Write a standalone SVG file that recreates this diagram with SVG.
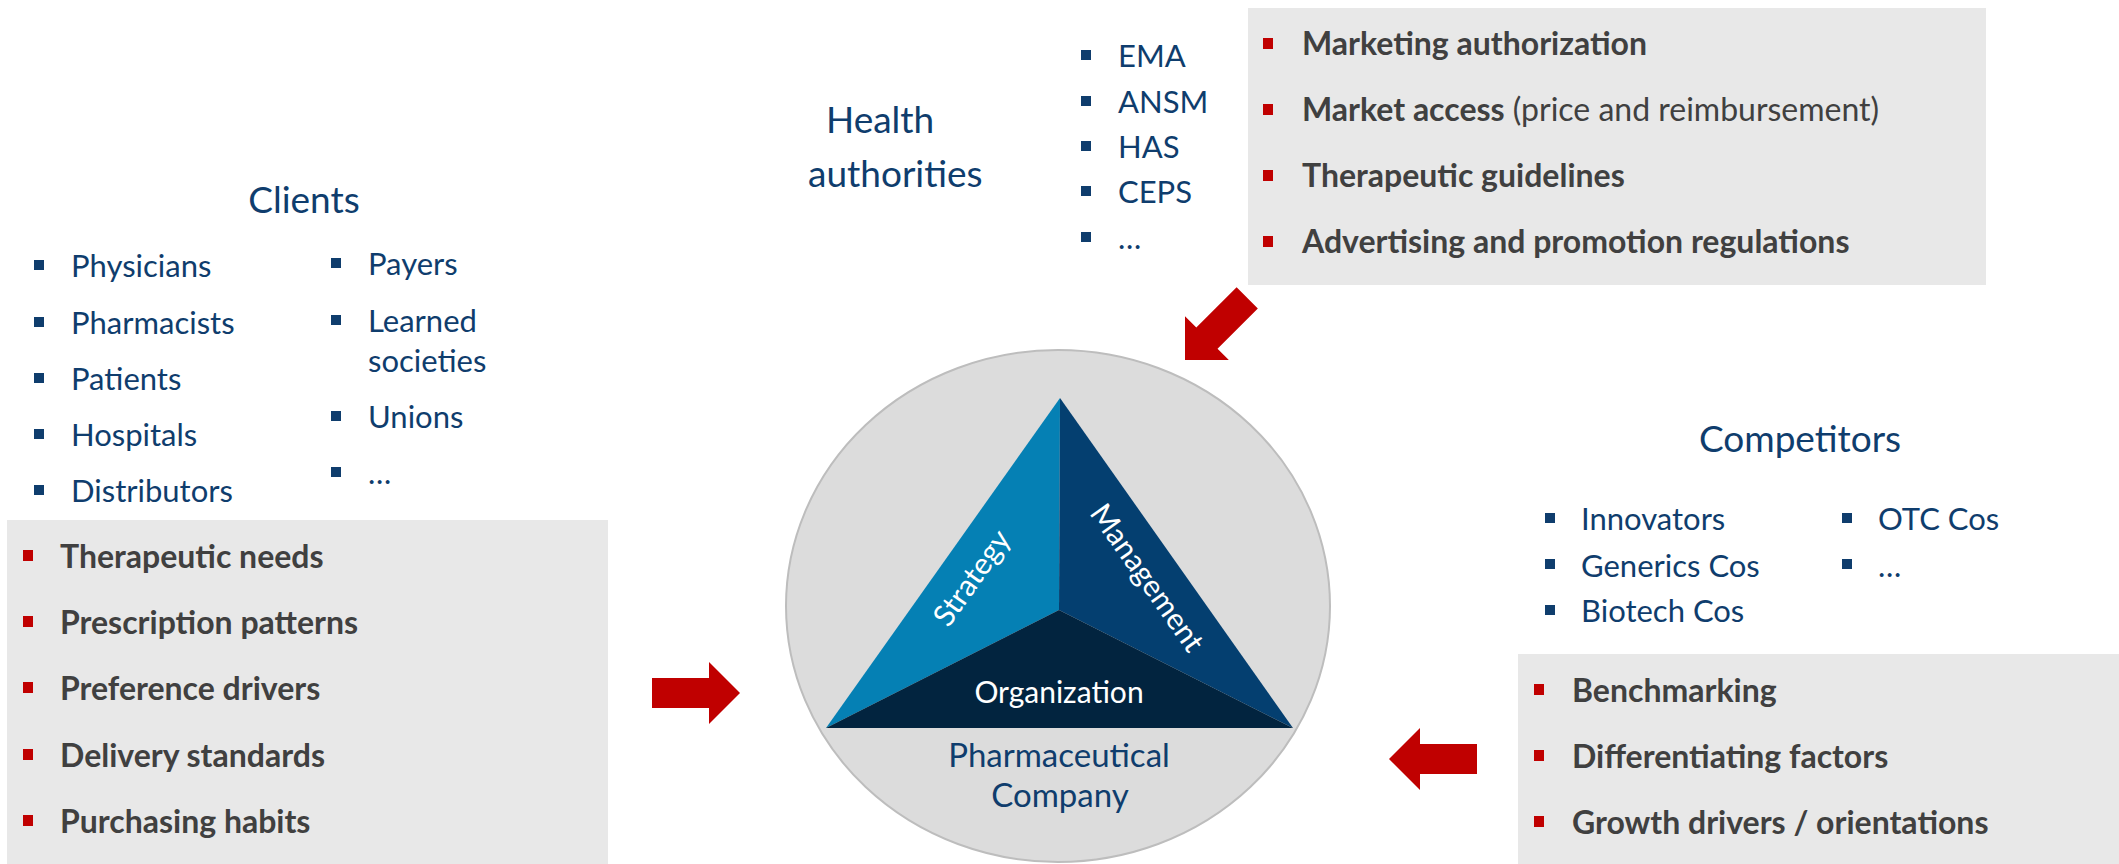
<svg xmlns="http://www.w3.org/2000/svg" width="2119" height="864" viewBox="0 0 2119 864">
<style>
text{font-family:Lato,"Open Sans","Liberation Sans",sans-serif}
.t{fill:#0F3D6D;font-size:37px}
.b{fill:#0F3D6D;font-size:31px}
.k{fill:#404040;font-size:32px;font-weight:bold}
.kn{font-weight:normal}
.box{fill:#E8E8E8}
.rb{fill:#C00000}
.bb{fill:#0F3D6D}
.w{fill:#FFFFFF;font-size:30px}
.p{fill:#0F3D6D;font-size:33px}
.mid{text-anchor:middle}
</style>
<defs>
<path id="arr" d="M-88,-15 H-31 V-31 L0,0 L-31,31 V15 H-88 Z" fill="#C00000"/>
</defs>
<rect width="2119" height="864" fill="#FFFFFF"/>

<g id="clients">
<text class="t mid" x="304" y="213">Clients</text>
<rect class="bb" x="34" y="260" width="10" height="10"/><text class="b" x="71" y="277">Physicians</text>
<rect class="bb" x="34" y="317" width="10" height="10"/><text class="b" x="71" y="334">Pharmacists</text>
<rect class="bb" x="34" y="373" width="10" height="10"/><text class="b" x="71" y="390">Patients</text>
<rect class="bb" x="34" y="429" width="10" height="10"/><text class="b" x="71" y="446">Hospitals</text>
<rect class="bb" x="34" y="485" width="10" height="10"/><text class="b" x="71" y="502">Distributors</text>
<rect class="bb" x="331" y="258" width="10" height="10"/><text class="b" x="368" y="275">Payers</text>
<rect class="bb" x="331" y="315" width="10" height="10"/><text class="b" x="368" y="332">Learned</text>
<text class="b" x="368" y="372">societies</text>
<rect class="bb" x="331" y="411" width="10" height="10"/><text class="b" x="368" y="428">Unions</text>
<rect class="bb" x="331" y="467" width="10" height="10"/><text class="b" x="368" y="484">…</text>
</g>

<g id="clients-box">
<rect class="box" x="7" y="520" width="601" height="344"/>
<rect class="rb" x="23" y="550" width="10" height="11"/><text class="k" x="60" y="568">Therapeutic needs</text>
<rect class="rb" x="23" y="616" width="10" height="11"/><text class="k" x="60" y="634">Prescription patterns</text>
<rect class="rb" x="23" y="682" width="10" height="11"/><text class="k" x="60" y="700">Preference drivers</text>
<rect class="rb" x="23" y="749" width="10" height="11"/><text class="k" x="60" y="767">Delivery standards</text>
<rect class="rb" x="23" y="815" width="10" height="11"/><text class="k" x="60" y="833">Purchasing habits</text>
</g>

<g id="health-authorities">
<text class="t" x="826" y="133">Health</text>
<text class="t" x="808" y="187">authorities</text>
<rect class="bb" x="1081" y="50" width="10" height="10"/><text class="b" x="1118" y="67">EMA</text>
<rect class="bb" x="1081" y="96" width="10" height="10"/><text class="b" x="1118" y="113">ANSM</text>
<rect class="bb" x="1081" y="141" width="10" height="10"/><text class="b" x="1118" y="158">HAS</text>
<rect class="bb" x="1081" y="186" width="10" height="10"/><text class="b" x="1118" y="203">CEPS</text>
<rect class="bb" x="1081" y="232" width="10" height="10"/><text class="b" x="1118" y="249">…</text>
</g>

<g id="health-box">
<rect class="box" x="1248" y="8" width="738" height="277"/>
<rect class="rb" x="1263" y="38" width="10" height="11"/><text class="k" x="1302" y="55">Marketing authorization</text>
<rect class="rb" x="1263" y="104" width="10" height="11"/><text class="k" x="1302" y="121">Market access<tspan class="kn"> (price and reimbursement)</tspan></text>
<rect class="rb" x="1263" y="170" width="10" height="11"/><text class="k" x="1302" y="187">Therapeutic guidelines</text>
<rect class="rb" x="1263" y="236" width="10" height="11"/><text class="k" x="1302" y="253">Advertising and promotion regulations</text>
</g>

<g id="competitors">
<text class="t mid" x="1800" y="452">Competitors</text>
<rect class="bb" x="1545" y="513" width="10" height="10"/><text class="b" x="1581" y="530">Innovators</text>
<rect class="bb" x="1545" y="559" width="10" height="10"/><text class="b" x="1581" y="577">Generics Cos</text>
<rect class="bb" x="1545" y="605" width="10" height="10"/><text class="b" x="1581" y="622">Biotech Cos</text>
<rect class="bb" x="1842" y="513" width="10" height="10"/><text class="b" x="1878" y="530">OTC Cos</text>
<rect class="bb" x="1842" y="559" width="10" height="10"/><text class="b" x="1878" y="577">…</text>
</g>

<g id="competitors-box">
<rect class="box" x="1518" y="654" width="601" height="210"/>
<rect class="rb" x="1534" y="684" width="10" height="11"/><text class="k" x="1572" y="702">Benchmarking</text>
<rect class="rb" x="1534" y="750" width="10" height="11"/><text class="k" x="1572" y="768">Differentiating factors</text>
<rect class="rb" x="1534" y="816" width="10" height="11"/><text class="k" x="1572" y="834">Growth drivers / orientations</text>
</g>

<g id="company">
<ellipse cx="1058" cy="606" rx="272" ry="256" fill="#DCDCDC" stroke="#BDBDBD" stroke-width="2"/>
<polygon points="1060,398 826,728 1059,610" fill="#0580B4"/>
<polygon points="1060,398 1059,610 1293,728" fill="#043F70"/>
<polygon points="826,728 1059,610 1293,728" fill="#02243F"/>
<text class="w mid" transform="translate(972,578) rotate(-54.7)" y="10">Strategy</text>
<text class="w mid" transform="translate(1147,578) rotate(54.7)" y="10">Management</text>
<text class="w mid" x="1059" y="703">Organization</text>
<text class="p mid" x="1059" y="767">Pharmaceutical</text>
<text class="p mid" x="1060" y="807">Company</text>
</g>

<g id="connectors">
<use href="#arr" transform="translate(740,693)"/>
<use href="#arr" transform="translate(1389,759) rotate(180)"/>
<use href="#arr" transform="translate(1185,360) rotate(135)"/>
</g>
</svg>
